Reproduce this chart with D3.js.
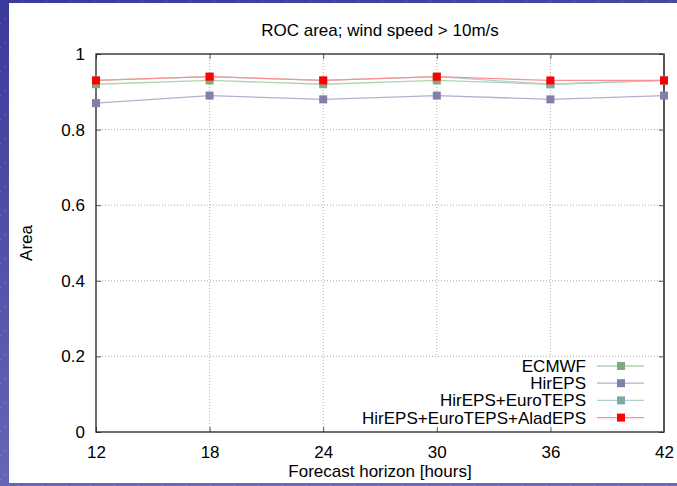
<!DOCTYPE html>
<html>
<head>
<meta charset="utf-8">
<script src="https://cdn.jsdelivr.net/npm/d3@7"></script>
<style>
  body { margin: 0; }
  svg { display: block; font-family: "Liberation Sans", Arial, sans-serif; }
</style>
</head>
<body>
<svg id="chart" width="677" height="486"></svg>
<script>
// data
var horizons = [12, 18, 24, 30, 36, 42];
var ecmwf      = [0.92, 0.93, 0.92, 0.93, 0.92, 0.93];
var hirEPS     = [0.87, 0.89, 0.88, 0.89, 0.88, 0.89];
var hirEuro    = [0.93, 0.94, 0.93, 0.94, 0.92, 0.93];
var hirEuroAlad = [0.93, 0.94, 0.93, 0.94, 0.93, 0.93];
var seriesNames = ["ECMWF", "HirEPS", "HirEPS+EuroTEPS", "HirEPS+EuroTEPS+AladEPS"];
var xTicks = [12, 18, 24, 30, 36, 42];
var yTicks = [0, 0.2, 0.4, 0.6, 0.8, 1];

var series = [
  {name: seriesNames[0], values: ecmwf,       line: "#b0d4b0", mark: "#80aa80"},
  {name: seriesNames[1], values: hirEPS,      line: "#b0b0d0", mark: "#8080aa"},
  {name: seriesNames[2], values: hirEuro,     line: "#b0d0d0", mark: "#80a8a8"},
  {name: seriesNames[3], values: hirEuroAlad, line: "#ff9090", mark: "#ff0000"}
];

var fontSize = 17;
var svg = d3.select("#chart");

// slide background
var defs = svg.append("defs");
var grad = defs.append("linearGradient").attr("id", "bg")
    .attr("x1", 0).attr("y1", 0).attr("x2", 0.3).attr("y2", 1);
grad.append("stop").attr("offset", 0).attr("stop-color", "#3a3a9a");
grad.append("stop").attr("offset", 1).attr("stop-color", "#6a6ab8");
var pat = defs.append("pattern").attr("id", "hatch")
    .attr("patternUnits", "userSpaceOnUse")
    .attr("width", 24).attr("height", 24);
pat.append("path").attr("d", "M0,24 L24,0")
    .attr("stroke", "#ffffff").attr("stroke-opacity", 0.25)
    .attr("stroke-width", 0.6).attr("stroke-dasharray", "3,3");

svg.append("rect").attr("width", 677).attr("height", 486).attr("fill", "url(#bg)");
svg.append("rect").attr("width", 677).attr("height", 486).attr("fill", "url(#hatch)");
svg.append("rect").attr("x", 9).attr("y", 3).attr("width", 668).attr("height", 480).attr("fill", "#fff");

var margin = {top: 54, right: 13, bottom: 54, left: 96},
    width = 677 - margin.left - margin.right,
    height = 486 - margin.top - margin.bottom,
    g = svg.append("g").attr("transform", "translate(" + margin.left + "," + margin.top + ")");

var x = d3.scaleLinear().domain([12, 42]).range([0, width]);
var y = d3.scaleLinear().domain([0, 1]).range([height, 0]);

// grid
g.append("g").selectAll("line")
  .data(xTicks.slice(1, -1))
  .enter().append("line")
    .attr("x1", function(d) { return x(d); })
    .attr("x2", function(d) { return x(d); })
    .attr("y1", 0).attr("y2", height)
    .attr("stroke", "#aaa").attr("stroke-width", 1)
    .attr("stroke-dasharray", "1,2");

g.append("g").selectAll("line")
  .data(yTicks.slice(1, -1))
  .enter().append("line")
    .attr("x1", 0).attr("x2", width)
    .attr("y1", function(d) { return y(d); })
    .attr("y2", function(d) { return y(d); })
    .attr("stroke", "#aaa").attr("stroke-width", 1)
    .attr("stroke-dasharray", "1,2");

// legend box covers the grid
var legendTop = y(0.2) + 1;
g.append("rect")
    .attr("x", 262).attr("y", legendTop)
    .attr("width", width - 262).attr("height", height - legendTop)
    .attr("fill", "#fff");

// axes, ticks inward and mirrored
var tickLen = 5;
var axisColor = "#222";
g.append("g")
    .attr("transform", "translate(0," + height + ")")
    .call(d3.axisBottom(x).tickValues(xTicks).tickSize(-tickLen).tickPadding(14).tickFormat(d3.format("d")))
    .call(function(a) { a.select(".domain").remove(); a.selectAll("line").attr("stroke", "#555"); });
g.append("g")
    .call(d3.axisTop(x).tickValues(xTicks).tickSize(-tickLen).tickFormat(""))
    .call(function(a) { a.select(".domain").remove(); a.selectAll("line").attr("stroke", "#555"); });
g.append("g")
    .call(d3.axisLeft(y).tickValues(yTicks).tickSize(-tickLen).tickPadding(11).tickFormat(d3.format("")))
    .call(function(a) { a.select(".domain").remove(); a.selectAll("line").attr("stroke", "#555"); });
g.append("g")
    .attr("transform", "translate(" + width + ",0)")
    .call(d3.axisRight(y).tickValues(yTicks).tickSize(-tickLen).tickFormat(""))
    .call(function(a) { a.select(".domain").remove(); a.selectAll("line").attr("stroke", "#555"); });

g.selectAll(".tick text")
    .attr("font-family", "Liberation Sans, Arial, sans-serif")
    .attr("font-size", fontSize)
    .attr("fill", "#000");

g.append("rect")
    .attr("width", width).attr("height", height)
    .attr("fill", "none").attr("stroke", axisColor).attr("stroke-width", 1.3);
g.append("line")
    .attr("x1", width).attr("x2", width).attr("y1", 0).attr("y2", height)
    .attr("stroke", "#555").attr("stroke-width", 2);

// lines and markers
var line = d3.line()
    .x(function(d, i) { return x(horizons[i]); })
    .y(function(d) { return y(d); });

var serie = g.selectAll(".serie")
  .data(series)
  .enter().append("g")
    .attr("class", "serie");

serie.append("path")
    .attr("d", function(d) { return line(d.values); })
    .attr("fill", "none")
    .attr("stroke", function(d) { return d.line; })
    .attr("stroke-width", 1.3);

serie.selectAll("rect")
  .data(function(d) { return d.values.map(function(v, i) { return {v: v, i: i, c: d.mark}; }); })
  .enter().append("rect")
    .attr("x", function(d) { return x(horizons[d.i]) - 4; })
    .attr("y", function(d) { return y(d.v) - 4; })
    .attr("width", 8).attr("height", 8)
    .attr("fill", function(d) { return d.c; });

// legend
var legend = g.selectAll(".legend")
  .data(series)
  .enter().append("g")
    .attr("class", "legend")
    .attr("transform", function(d, i) { return "translate(0," + (312 + i * 17.2) + ")"; });

legend.append("text")
    .attr("x", 490)
    .attr("dy", "0.35em")
    .attr("text-anchor", "end")
    .attr("font-size", fontSize)
    .text(function(d) { return d.name; });

legend.append("line")
    .attr("x1", 501).attr("x2", 548)
    .attr("stroke", function(d) { return d.line; })
    .attr("stroke-width", 1.3);

legend.append("rect")
    .attr("x", 521).attr("y", -4)
    .attr("width", 8).attr("height", 8)
    .attr("fill", function(d) { return d.mark; });

// titles
svg.append("text")
    .attr("x", margin.left + width / 2).attr("y", 36)
    .attr("text-anchor", "middle")
    .attr("font-size", fontSize)
    .text("ROC area; wind speed > 10m/s");

svg.append("text")
    .attr("x", margin.left + width / 2).attr("y", 477)
    .attr("text-anchor", "middle")
    .attr("font-size", fontSize)
    .text("Forecast horizon [hours]");

svg.append("text")
    .attr("transform", "translate(32," + (margin.top + height / 2) + ") rotate(-90)")
    .attr("text-anchor", "middle")
    .attr("font-size", fontSize)
    .text("Area");
</script>
</body>
</html>
